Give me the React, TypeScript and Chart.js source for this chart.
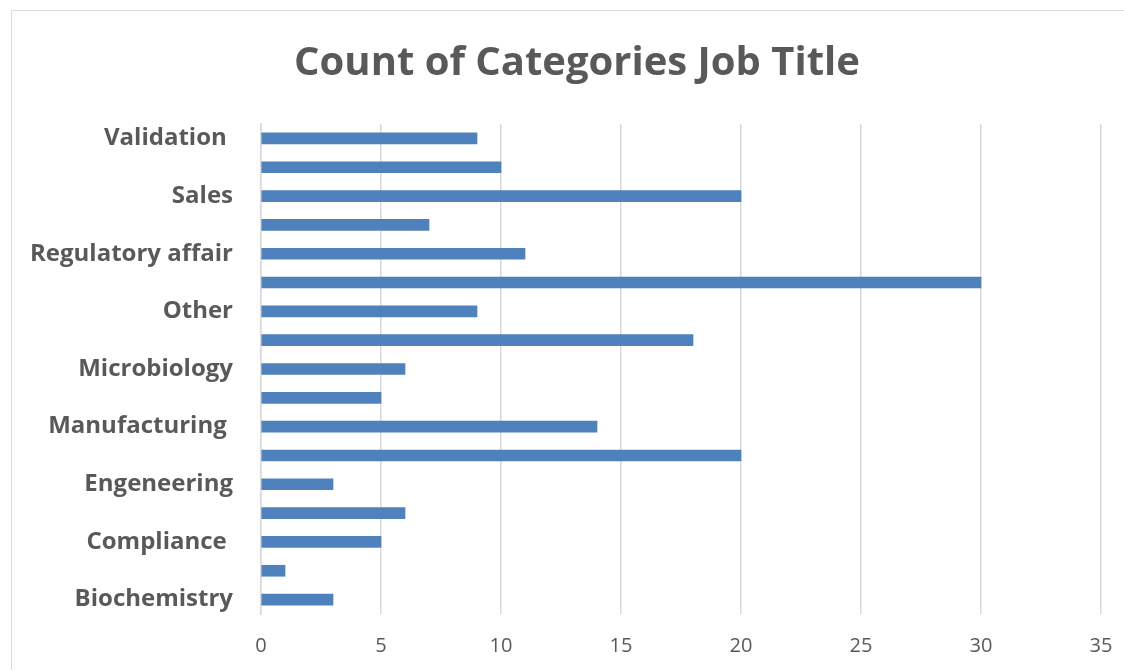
import { useEffect, useRef } from "react";
import { Chart, Plugin, registerables } from "chart.js";

Chart.register(...registerables);

// bottom-to-top order as in the sheet; only every other label is drawn
const categories = [
  "Biochemistry",
  "Chemistry",
  "Compliance ",
  "Documentation",
  "Engeneering",
  "IT",
  "Manufacturing ",
  "Marketing",
  "Microbiology",
  "Operations",
  "Other",
  "Quality",
  "Regulatory affair",
  "Research",
  "Sales",
  "Supply chain",
  "Validation ",
];
const counts = [3, 1, 5, 6, 3, 20, 14, 5, 6, 18, 9, 30, 11, 7, 20, 10, 9];
const xTicks = [0, 5, 10, 15, 20, 25, 30, 35];
const chartTitle = "Count of Categories Job Title";

const FONT = "'Open Sans', 'Liberation Sans', sans-serif";

// built-in title is centred inside the layout padding, Excel centres on the whole frame
const frameTitle: Plugin<"bar"> = {
  id: "frameTitle",
  afterDraw(chart) {
    const ctx = chart.ctx;
    ctx.save();
    ctx.font = `bold 40px ${FONT}`;
    ctx.fillStyle = "#595959";
    ctx.textAlign = "center";
    ctx.textBaseline = "middle";
    ctx.fillText(chartTitle, chart.width / 2, 53);
    ctx.restore();
  },
};

export default function App() {
  const canvasRef = useRef<HTMLCanvasElement | null>(null);

  useEffect(() => {
    if (!canvasRef.current) return;
    const chart = new Chart(canvasRef.current, {
      type: "bar",
      data: {
        labels: categories,
        datasets: [
          {
            label: chartTitle,
            data: counts,
            backgroundColor: "#4f81bd",
            barThickness: 11,
          },
        ],
      },
      options: {
        indexAxis: "y",
        animation: false,
        responsive: true,
        maintainAspectRatio: false,
        layout: { padding: { left: 0, right: 41, top: 113, bottom: 0 } },
        plugins: {
          legend: { display: false },
          tooltip: { enabled: false },
          title: { display: false },
        },
        scales: {
          x: {
            min: 0,
            max: 35,
            afterBuildTicks: (axis: any) => {
              axis.ticks = xTicks.map((v) => ({ value: v }));
            },
            afterFit: (axis: any) => {
              axis.height = 87;
            },
            grid: { color: "#d9d9d9", lineWidth: 1.5, drawTicks: false },
            border: { display: false },
            ticks: {
              color: "#595959",
              padding: 20,
              font: { family: FONT, size: 20 },
            },
          },
          y: {
            reverse: true,
            afterFit: (axis: any) => {
              axis.width = 249;
            },
            grid: { display: false },
            border: { display: true, color: "#d9d9d9", width: 1.5 },
            ticks: {
              autoSkip: false,
              color: "#595959",
              padding: 20,
              font: { family: FONT, size: 24, weight: "bold" },
              callback: (_v: any, i: number) => (i % 2 === 0 ? categories[i] : ""),
            },
          },
        },
      },
      plugins: [frameTitle],
    });
    return () => chart.destroy();
  }, []);

  return (
    <div
      style={{
        position: "fixed",
        inset: 0,
        overflow: "hidden",
        background: "#fff",
      }}
    >
      <div
        style={{
          position: "absolute",
          left: 11,
          top: 10,
          width: 1130,
          height: 690,
          border: "1.5px solid #d9d9d9",
          background: "#fff",
        }}
      >
        <canvas ref={canvasRef} />
      </div>
    </div>
  );
}
